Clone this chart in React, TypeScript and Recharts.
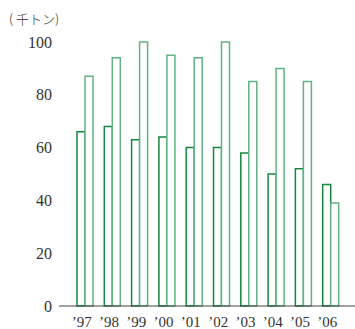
import { BarChart, Bar, XAxis, YAxis } from 'recharts';

const years = ["'97", "'98", "'99", "'00", "'01", "'02", "'03", "'04", "'05", "'06"];
const darkValues = [66, 68, 63, 64, 60, 60, 58, 50, 52, 46];
const lightValues = [87, 94, 100, 95, 94, 100, 85, 90, 85, 39];
const yTicks = [0, 20, 40, 60, 80, 100];

const DARK = '#14873f';
const LIGHT = '#62b283';

const data = years.map((year, i) => ({
    year: year.replace("'", '\u2019'),
    dark: darkValues[i],
    light: lightValues[i],
}));

export default function App() {
    return (
        <div style={{ position: 'absolute', left: 0, top: 0, width: 355, height: 329, background: '#fff' }}>
            <div
                style={{
                    position: 'absolute',
                    left: 9,
                    top: 9,
                    fontFamily: '"Noto Sans CJK JP", serif',
                    fontSize: 13,
                    fontWeight: 300,
                    color: '#333',
                    lineHeight: '20px',
                    whiteSpace: 'pre',
                }}
            >
                ( 千トン)
            </div>
            <BarChart
                width={355}
                height={329}
                data={data}
                margin={{ top: 42, right: 0, bottom: 0, left: 0 }}
                barSize={8}
                barGap={0}
            >
                <YAxis
                    domain={[0, 100]}
                    ticks={yTicks}
                    width={59}
                    axisLine={false}
                    tickLine={false}
                    tickMargin={1}
                    tick={{ fontSize: 16, fill: '#333', fontFamily: '"Liberation Serif", serif' }}
                />
                <XAxis
                    dataKey="year"
                    height={23}
                    padding={{ left: 12, right: 11 }}
                    axisLine={{ stroke: '#444', strokeWidth: 1.2 }}
                    tickLine={false}
                    tickMargin={4}
                    tick={{ fontSize: 15, fill: '#333', fontFamily: '"Liberation Serif", serif', dx: -3 }}
                    interval={0}
                />
                <Bar dataKey="dark" fill="#fff" stroke={DARK} strokeWidth={1.5} isAnimationActive={false} />
                <Bar dataKey="light" fill="#fff" stroke={LIGHT} strokeWidth={1.5} isAnimationActive={false} />
            </BarChart>
        </div>
    );
}
